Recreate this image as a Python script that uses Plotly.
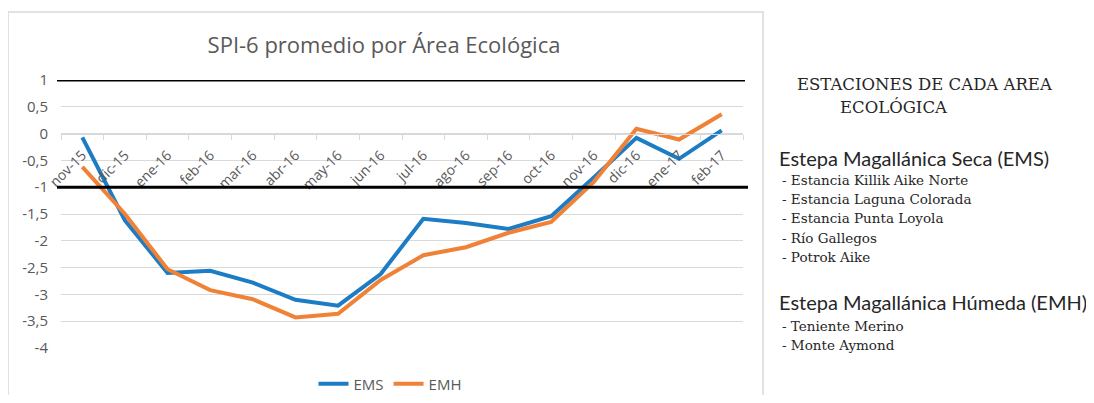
import plotly.graph_objects as go

months = ["nov-15", "dic-15", "ene-16", "feb-16", "mar-16", "abr-16", "may-16", "jun-16",
          "jul-16", "ago-16", "sep-16", "oct-16", "nov-16", "dic-16", "ene-17", "feb-17"]
ems = [-0.07, -1.62, -2.60, -2.56, -2.78, -3.10, -3.21, -2.62,
       -1.59, -1.67, -1.78, -1.54, -0.82, -0.08, -0.47, 0.06]
emh = [-0.62, -1.50, -2.53, -2.92, -3.09, -3.43, -3.36, -2.73,
       -2.27, -2.12, -1.85, -1.65, -0.90, 0.09, -0.11, 0.36]
yticks = [1, 0.5, 0, -0.5, -1, -1.5, -2, -2.5, -3, -3.5, -4]
ytext = ["1", "0,5", "0", "-0,5", "-1", "-1,5", "-2", "-2,5", "-3", "-3,5", "-4"]

OFF = 8  # page body margin
W, H = 1094 - OFF, 403 - 2 * OFF
# target screen pixels of the plot area
SL, SR, ST, SB = 61, 743, 80, 348
L, R_EDGE, T, B_EDGE = SL - OFF, SR - OFF, ST - OFF, SB - OFF


def px2x(p):
    return (p - OFF - L) / (R_EDGE - L)


def px2y(p):
    return (B_EDGE - (p - OFF)) / (B_EDGE - T)


fig = go.Figure()
fig.add_trace(go.Scatter(x=months, y=ems, mode="lines", name="EMS",
                         line=dict(color="#1C7CC4", width=4)))
fig.add_trace(go.Scatter(x=months, y=emh, mode="lines", name="EMH",
                         line=dict(color="#F08238", width=4)))

gray = "#595959"
fig.update_layout(
    width=W, height=H,
    margin=dict(l=L, r=W - R_EDGE, t=T, b=H - B_EDGE, autoexpand=False),
    paper_bgcolor="white", plot_bgcolor="white",
    separators=",.",
    font=dict(family="Open Sans", color=gray),
    title=dict(text="SPI-6 promedio por Área Ecológica", x=px2x(384), xref="paper",
               xanchor="center", y=1 - (45 - OFF) / H, yanchor="middle",
               font=dict(size=22, color=gray, family="Open Sans")),
    showlegend=True,
    legend=dict(orientation="h", x=px2x(390), xanchor="center", y=px2y(384), yanchor="middle",
                font=dict(size=15, color=gray), bgcolor="rgba(0,0,0,0)"),
    xaxis=dict(type="category", anchor="free", position=0.8, showgrid=False, automargin=False,
               showline=True, linecolor="#d9d9d9", linewidth=1,
               ticks="outside", tickson="boundaries", ticklen=5, tickcolor="#d9d9d9",
               tickangle=-45, tickfont=dict(size=14, color=gray), range=[-0.5, 15.5],
               ticklabelstandoff=7),
    yaxis=dict(range=[-4, 1], tickvals=yticks, ticktext=ytext, showgrid=True, automargin=False,
               gridcolor="#d9d9d9", gridwidth=1, zeroline=False, showline=False,
               tickfont=dict(size=15, color=gray), ticklabelstandoff=12),
)

# black reference lines at +1 and -1
for yv, x0p, x1p in [(1, 57, 745), (-1, 57, 748)]:
    fig.add_shape(type="line", xref="paper", yref="y", x0=px2x(x0p), x1=px2x(x1p),
                  y0=yv, y1=yv, line=dict(color="black", width=3), layer="above")

# chart border
fig.add_shape(type="rect", xref="paper", yref="paper", x0=px2x(8), x1=px2x(763),
              y0=px2y(410), y1=px2y(12), line=dict(color="#d9d9d9", width=1.5))

serif = "DejaVu Serif"
notes = [
    ("ESTACIONES DE CADA AREA", 795, 84, serif, 16.5),
    ("ECOLÓGICA", 838, 107, serif, 16.5),
    ("Estepa Magallánica Seca (EMS)", 777, 158, "Lato", 20),
    ("- Estancia Killik Aike Norte", 780, 180, serif, 13.5),
    ("- Estancia Laguna Colorada", 780, 199, serif, 13.5),
    ("- Estancia Punta Loyola", 780, 218, serif, 13.5),
    ("- Río Gallegos", 780, 238, serif, 13.5),
    ("- Potrok Aike", 780, 257, serif, 13.5),
    ("Estepa Magallánica Húmeda (EMH)", 777, 302, "Lato", 20),
    ("- Teniente Merino", 780, 326, serif, 13.5),
    ("- Monte Aymond", 780, 345, serif, 13.5),
]
for txt, xp, yp, fam, sz in notes:
    fig.add_annotation(text=txt, xref="paper", yref="paper", x=px2x(xp), y=px2y(yp),
                       xanchor="left", yanchor="middle", showarrow=False,
                       font=dict(family=fam, size=sz, color="#262626"))

fig.write_html("out.html")
